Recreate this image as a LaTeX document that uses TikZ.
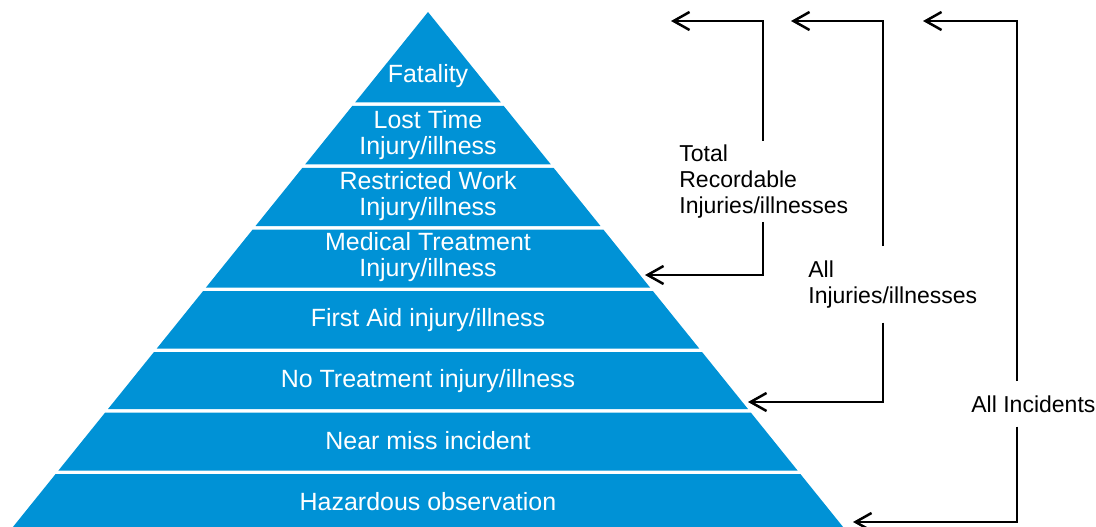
\documentclass[tikz,border=0pt]{standalone}
\usepackage{fontspec}
\setmainfont{Liberation Sans}
\usetikzlibrary{arrows.meta}
\definecolor{pyrblue}{RGB}{0,146,214}

\begin{document}
\begin{tikzpicture}[x=0.02cm,y=-0.02cm,
		lvl/.style={text=white,align=center,inner sep=0pt,font=\fontsize{14.2}{14.8}\selectfont},
		lbl/.style={text=black,align=left,inner xsep=0pt,font=\fontsize{13.1}{15}\selectfont},
		brk/.style={line width=0.05cm,-{Straight Barb[length=0.32cm,width=0.36cm,line width=0.05cm]}}]
			\useasboundingbox (0,0) rectangle (1096,527);

			\def\bands {12/102.5, 106/164.5, 168/226, 229.5/287.5, 291/348.5, 352/409,
			412.5/470.5, 474/527}  % band top/bottom
			\foreach \t/\b in \bands
			{	\fill[pyrblue] ({428-0.806*(\t-12)},\t) -- ({428+0.806*(\t-12)},\t)
				-- ({428+0.806*(\b-12)},\b) -- ({428-0.806*(\b-12)},\b) -- cycle;
			}

			\node[lvl] (l1) at (428, 76)	{Fatality};
			\node[lvl] (l2) at (428,135)	{Lost Time\\Injury/illness};
			\node[lvl] (l3) at (428,196)	{Restricted Work\\Injury/illness};
			\node[lvl] (l4) at (428,257)	{Medical Treatment\\Injury/illness};
			\node[lvl] (l5) at (428,320)	{First Aid injury/illness};
			\node[lvl] (l6) at (428,381)	{No Treatment injury/illness};
			\node[lvl] (l7) at (428,441)	{Near miss incident};
			\node[lvl] (l8) at (428,502)	{Hazardous observation};

			\node[lbl,inner ysep=0.06cm,anchor=north west] (trc) at (679,141)	{Total\\Recordable\\Injuries/illnesses};
			\node[lbl,inner ysep=0.28cm,anchor=north west] (ai) at (808,246)	{All\\Injuries/illnesses};
			\node[lbl,inner ysep=0.28cm,anchor=north west] (inc) at (971,381)	{All Incidents};

			\coordinate (c1) at (763,21);	\coordinate (h1) at (671,21);	\coordinate (e1) at (645,275);
			\coordinate (c2) at (883,21);	\coordinate (h2) at (791,21);	\coordinate (e2) at (748,402);
			\coordinate (c3) at (1017,21);	\coordinate (h3) at (923,21);	\coordinate (e3) at (853,522);

			\def\brackets {trc/c1/h1/e1, ai/c2/h2/e2, inc/c3/h3/e3}  % label/corner/top tip/pyramid tip
			\foreach \n/\c/\h/\e in \brackets
			{	\draw[brk] (\n.north -| \c) -- (\c) -- (\h);
				\draw[brk] (\n.south -| \c) |- (\e);
			}
		\end{tikzpicture}
\end{document}
